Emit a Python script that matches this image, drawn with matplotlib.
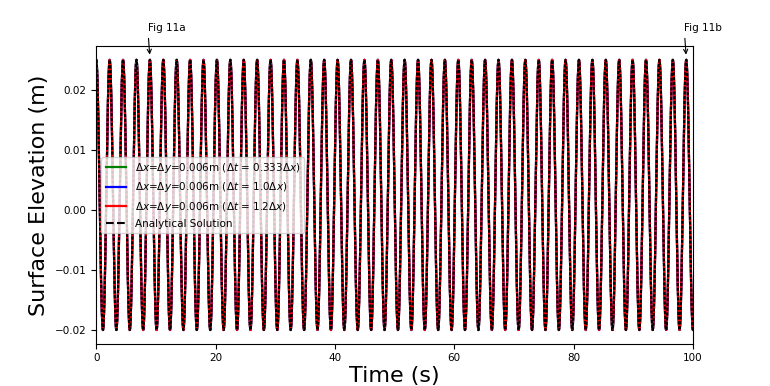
import numpy as np
import matplotlib
matplotlib.use("Agg")
import matplotlib.pyplot as plt

# values
t_end = 100.0          # s
period = 2.247         # s, wave period
crest = 0.025          # m
trough = -0.020        # m
fig_a_time = 4 * period
fig_b_time = 44 * period

labels = [r"$\Delta x$=$\Delta y$=0.006m ($\Delta t$ = 0.333$\Delta x$)",
          r"$\Delta x$=$\Delta y$=0.006m ($\Delta t$ = 1.0$\Delta x$)",
          r"$\Delta x$=$\Delta y$=0.006m ($\Delta t$ = 1.2$\Delta x$)",
          "Analytical Solution"]
colors = ["green", "blue", "red"]

t = np.linspace(0, t_end, 10000)
mean = 0.5 * (crest + trough)
amp = 0.5 * (crest - trough)
eta = mean + amp * np.cos(2 * np.pi * t / period)

fig, ax = plt.subplots(figsize=(7.7, 3.86), dpi=100)
fig.subplots_adjust(left=0.125, right=0.9, top=0.88, bottom=0.11)

for c, lab in zip(colors, labels[:3]):
    ax.plot(t, eta, color=c, lw=1.6, label=lab)
ax.plot(t, eta, "k--", lw=1.5, dashes=(1.5, 0.8), label=labels[3])

ax.set_xlim(0, t_end)
ax.set_xlabel("Time (s)", fontsize=16, labelpad=2)
ax.set_ylabel("Surface Elevation (m)", fontsize=16)
ax.tick_params(labelsize=7.5)
ax.set_yticks([-0.02, -0.01, 0.0, 0.01, 0.02])
leg = ax.legend(loc="center left", fontsize=7.5)
leg.legend_handles[3].set_dashes((3.7, 1.6))

for tt, txt in [(fig_a_time, "Fig 11a"), (fig_b_time, "Fig 11b")]:
    ax.annotate(txt, xy=(tt, crest + 0.0004), xytext=(tt - 0.3, 0.0295),
                textcoords="data", ha="left", va="bottom", fontsize=7.5,
                annotation_clip=False,
                arrowprops=dict(arrowstyle="->", color="k", relpos=(0, 0), lw=0.8))

fig.savefig("out.png")
